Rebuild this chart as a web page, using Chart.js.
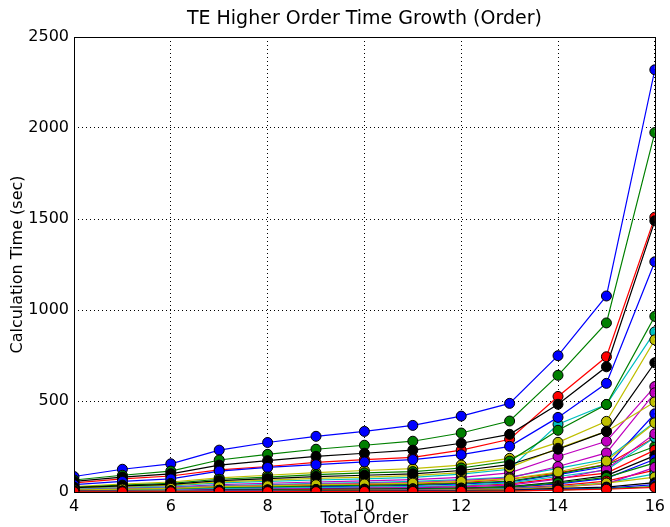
<!DOCTYPE html>
<html>
<head>
<meta charset="utf-8">
<script src="https://cdn.jsdelivr.net/npm/chart.js@4/dist/chart.umd.min.js"></script>
<style>
  html, body { margin: 0; padding: 0; background: #ffffff; }
  #wrap { width: 670px; height: 527px; }
</style>
</head>
<body>
<div id="wrap"><canvas id="myChartOrder" width="670" height="527"></canvas></div>
<script>
//? Données.

const ordresTotaux = [4, 5, 6, 7, 8, 9, 10, 11, 12, 13, 14, 15, 16];

const couleursCycle = ["#0000ff", "#008000", "#ff0000", "#00bfbf", "#bf00bf", "#bfbf00", "#000000"];

const serie00 = [85, 125, 155, 230, 272, 306, 333, 366, 417, 487, 749, 1077, 2320];
const serie01 = [66, 92, 115, 176, 207, 235, 257, 279, 324, 390, 641, 929, 1975];
const serie02 = [50, 72, 88, 122, 140, 163, 178, 190, 230, 290, 525, 743, 1510];
const serie03 = [20, 28, 34, 50, 58, 66, 72, 80, 98, 125, 372, 481, 880];
const serie04 = [15, 22, 27, 40, 48, 55, 61, 68, 80, 105, 195, 279, 579];
const serie05 = [30, 44, 55, 78, 92, 106, 118, 128, 148, 185, 273, 388, 836];
const serie06 = [58, 82, 100, 148, 172, 196, 213, 230, 268, 317, 482, 688, 1490];
const serie07 = [40, 58, 72, 115, 135, 150, 165, 178, 205, 251, 410, 597, 1265];
const serie08 = [26, 38, 47, 70, 82, 95, 105, 112, 132, 170, 339, 481, 965];
const serie09 = [10, 14, 18, 26, 31, 36, 40, 44, 52, 70, 105, 150, 300];
const serie10 = [14, 20, 24, 35, 41, 47, 52, 58, 68, 82, 130, 180, 385];
const serie11 = [12, 17, 21, 31, 37, 43, 47, 52, 62, 78, 140, 215, 545];
const serie12 = [22, 31, 38, 56, 65, 75, 82, 90, 106, 135, 240, 333, 495];
const serie13 = [24, 34, 42, 62, 73, 85, 92, 100, 118, 150, 235, 333, 710];
const serie14 = [8, 11, 14, 21, 25, 29, 32, 36, 44, 56, 95, 140, 430];
const serie15 = [9, 13, 16, 24, 28, 33, 36, 40, 48, 60, 100, 150, 250];
const serie16 = [6, 9, 11, 16, 19, 22, 25, 28, 33, 45, 75, 104, 230];
const serie17 = [7, 10, 12, 18, 21, 24, 27, 30, 36, 50, 85, 120, 300];
const serie18 = [5, 7, 9, 13, 16, 19, 21, 24, 28, 38, 70, 125, 320];
const serie19 = [11, 16, 20, 29, 34, 40, 44, 49, 58, 72, 110, 170, 380];
const serie20 = [4, 6, 7, 10, 12, 14, 16, 18, 22, 30, 55, 90, 200];
const serie21 = [3, 4, 5, 8, 9, 11, 12, 14, 17, 25, 45, 75, 180];
const serie22 = [4, 5, 6, 9, 11, 13, 14, 16, 20, 28, 50, 80, 160];
const serie23 = [3, 4, 5, 7, 8, 10, 11, 12, 15, 20, 35, 60, 120];
const serie24 = [2, 3, 4, 6, 7, 8, 9, 10, 12, 18, 30, 50, 100];
const serie25 = [2, 3, 3, 5, 6, 7, 8, 9, 11, 15, 28, 45, 135];
const serie26 = [2, 2, 3, 4, 5, 6, 7, 8, 10, 13, 25, 49, 82];
const serie27 = [1, 2, 2, 3, 4, 5, 5, 6, 8, 10, 20, 27, 51];
const serie28 = [1, 1, 2, 3, 3, 4, 4, 5, 6, 8, 15, 22, 40];
const serie29 = [1, 1, 1, 2, 2, 3, 3, 4, 5, 6, 12, 18, 30];
const serie30 = [1, 1, 1, 2, 2, 2, 3, 3, 4, 5, 10, 15, 25];

const toutesLesSeries = [
  serie00, serie01, serie02, serie03, serie04, serie05, serie06, serie07,
  serie08, serie09, serie10, serie11, serie12, serie13, serie14, serie15,
  serie16, serie17, serie18, serie19, serie20, serie21, serie22, serie23,
  serie24, serie25, serie26, serie27, serie28, serie29, serie30,
];

const ticksY = [0, 500, 1000, 1500, 2000, 2500];
const ticksX = [4, 6, 8, 10, 12, 14, 16];

const titreGraphique = "TE Higher Order Time Growth (Order)";

//? -------------------------------------------------

//? Cadre noir + titre centré sur la zone du graphique.

const cadrePlugin = {
  id: "cadre",
  afterDraw(chart) {
    const { ctx, chartArea } = chart;
    ctx.save();
    ctx.strokeStyle = "#000000";
    ctx.lineWidth = 1;
    ctx.strokeRect(
      Math.round(chartArea.left) + 0.5,
      Math.round(chartArea.top) + 0.5,
      Math.round(chartArea.right - chartArea.left),
      Math.round(chartArea.bottom - chartArea.top)
    );

    ctx.fillStyle = "#000000";
    ctx.font = "19px 'DejaVu Sans'";
    ctx.textAlign = "center";
    ctx.textBaseline = "middle";
    ctx.fillText(titreGraphique, (chartArea.left + chartArea.right) / 2, 19);
    ctx.restore();
  },
};

//? -------------------------------------------------

//? Construction du graphique.

const construireGraphique = () => {
  const ctx = document.getElementById("myChartOrder").getContext("2d");

  const datasets = toutesLesSeries.map((serie, i) => {
    const couleur = couleursCycle[i % couleursCycle.length];
    return {
      label: "serie " + i,
      data: serie.map((v, j) => ({ x: ordresTotaux[j], y: v })),
      borderColor: couleur,
      backgroundColor: couleur,
      pointBackgroundColor: couleur,
      pointBorderColor: "#000000",
      pointBorderWidth: 1,
      pointRadius: 5,
      borderWidth: 1.2,
      tension: 0,
      clip: 0,
      order: -i,
    };
  });

  const grille = {
    color: "#000000",
    lineWidth: 1,
    drawTicks: false,
  };

  const config = {
    type: "line",
    data: { datasets },
    plugins: [cadrePlugin],
    options: {
      responsive: false,
      animation: { duration: 0 },
      layout: { padding: { left: 0, right: 12, top: 37, bottom: 0 } },
      plugins: {
        legend: { display: false },
        tooltip: { enabled: false },
        title: { display: false },
      },
      scales: {
        x: {
          type: "linear",
          min: 4,
          max: 16,
          afterBuildTicks: (scale) => {
            scale.ticks = ticksX.map((v) => ({ value: v }));
          },
          afterFit: (scale) => {
            scale.height = 35;
          },
          border: { display: false, dash: [1, 3] },
          grid: grille,
          ticks: {
            color: "#000000",
            padding: 5,
            maxRotation: 0,
            callback: (v) => String(v),
            font: { family: "DejaVu Sans", size: 16 },
          },
          title: {
            display: true,
            text: "Total Order",
            color: "#000000",
            padding: { top: 0, bottom: -1 },
            font: { family: "DejaVu Sans", size: 16 },
          },
        },
        y: {
          type: "linear",
          min: 0,
          max: 2500,
          afterBuildTicks: (scale) => {
            scale.ticks = ticksY.map((v) => ({ value: v }));
          },
          afterFit: (scale) => {
            scale.width = 74;
          },
          border: { display: false, dash: [1, 3] },
          grid: grille,
          ticks: {
            color: "#000000",
            padding: 5,
            callback: (v) => String(v),
            font: { family: "DejaVu Sans", size: 16 },
          },
          title: {
            display: true,
            text: "Calculation Time (sec)",
            color: "#000000",
            padding: { top: 8, bottom: 0 },
            font: { family: "DejaVu Sans", size: 16 },
          },
        },
      },
    },
  };

  new Chart(ctx, config);
};

construireGraphique();
</script>
</body>
</html>
